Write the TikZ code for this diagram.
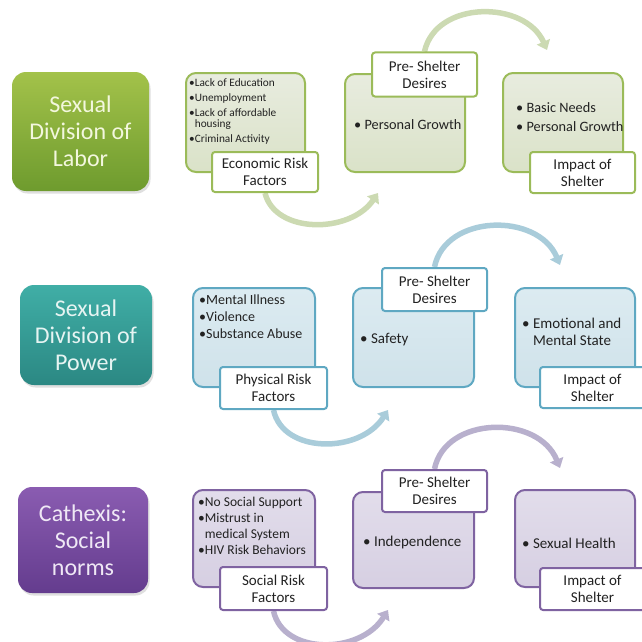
\documentclass[tikz,border=0pt]{standalone}
\usepackage{fontspec}
\setmainfont{Carlito}
\usetikzlibrary{arrows.meta,shadows}
\pgfdeclarelayer{background}
\pgfsetlayers{background,main}
\definecolor{grnA}{HTML}{A3C24A}\definecolor{grnB}{HTML}{6E9B2E}
\definecolor{tealA}{HTML}{40AEA6}\definecolor{tealB}{HTML}{2B8883}
\definecolor{purA}{HTML}{8A5CB1}\definecolor{purB}{HTML}{643C8E}
\definecolor{grnT}{HTML}{F3F7DE}\definecolor{tealT}{HTML}{E6F4F2}\definecolor{purT}{HTML}{EFE8F5}
\definecolor{grnF1}{HTML}{E8ECDF}\definecolor{grnF2}{HTML}{DAE2C8}\definecolor{grnL}{HTML}{9BBB59}
\definecolor{bluF1}{HTML}{DCEBF1}\definecolor{bluF2}{HTML}{CFE2EA}\definecolor{bluL}{HTML}{5FA8C2}
\definecolor{purF1}{HTML}{E2DDEB}\definecolor{purF2}{HTML}{D6CFE2}\definecolor{purL}{HTML}{7F63A1}
\definecolor{grnArc}{HTML}{CCDAB2}\definecolor{bluArc}{HTML}{A9CCDA}\definecolor{purArc}{HTML}{B8B0CD}
\definecolor{ink}{HTML}{222222}
\tikzset{
  bigbox/.style={rounded corners=14pt, inner sep=0pt, align=center,
    font=\fontsize{24}{27}\selectfont,
    drop shadow={opacity=0.25, shadow xshift=1.5pt, shadow yshift=-2.5pt}},
  itembox/.style={draw, line width=2pt, rounded corners=10pt, inner sep=0pt},
  tagbox/.style={draw, fill=white, line width=2pt, rounded corners=3pt, inner sep=0pt,
    align=center, text=ink, font=\fontsize{15}{17}\selectfont},
  itemtext/.style={anchor=west, align=left, inner sep=0pt, text=ink},
  flowarc/.style={line width=5.5pt, -{Triangle[width=14pt,length=9pt]}},
  greenrow/.style={draw=grnL},
  bluerow/.style={draw=bluL},
  purplerow/.style={draw=purL}
}
\begin{document}
\begin{tikzpicture}[x=1pt,y=-1pt]
\useasboundingbox (0,0) rectangle (641,642);

% ---------- Row 1 ----------
\node[bigbox, top color=grnA, bottom color=grnB, text=grnT, minimum width=137pt, minimum height=119pt]
  (L1) at (80.5,131.5) {Sexual\\Division of\\Labor};
\node[itembox, greenrow, top color=grnF1, bottom color=grnF2, minimum width=119pt, minimum height=99pt]
  (R1) at (245.5,122.5) {};
\node[itembox, greenrow, top color=grnF1, bottom color=grnF2, minimum width=120pt, minimum height=98pt]
  (P1) at (405,123) {};
\node[itembox, greenrow, top color=grnF1, bottom color=grnF2, minimum width=120pt, minimum height=99pt]
  (I1) at (563,122.5) {};
\node[itemtext, font=\fontsize{11.3}{11}\selectfont] (R1t) at (189,111)
  {•Lack of Education\\[4pt]•Unemployment\\[4pt]•Lack of affordable\\\hphantom{•}housing\\[4pt]•Criminal Activity};
\node[itemtext, font=\fontsize{14.3}{17}\selectfont] (P1t) at (354,125) {• Personal Growth};
\node[itemtext, font=\fontsize{14.3}{19}\selectfont] (I1t) at (516,117.5) {• Basic Needs\\• Personal Growth};
\node[tagbox, greenrow, minimum width=106pt, minimum height=40pt] (R1lab) at (265,172) {Economic Risk\\Factors};
\node[tagbox, greenrow, minimum width=105pt, minimum height=44pt] (P1lab) at (424.5,74.5) {Pre- Shelter\\Desires};
\node[tagbox, greenrow, minimum width=105pt, minimum height=41pt] (I1lab) at (582.5,172.5) {Impact of\\Shelter};
\coordinate (t1) at (378,193);
\coordinate (u1) at (547,50);
\begin{pgfonlayer}{background}
\draw[flowarc, grnArc] (R1lab.south) .. controls (275,234) and (350,234) .. (t1);
\draw[flowarc, grnArc] (P1lab.north) .. controls (436,0) and (525,0) .. (u1);
\end{pgfonlayer}

% ---------- Row 2 ----------
\node[bigbox, top color=tealA, bottom color=tealB, text=tealT, minimum width=132pt, minimum height=100pt]
  (L2) at (86,335) {Sexual\\Division of\\Power};
\node[itembox, bluerow, top color=bluF1, bottom color=bluF2, minimum width=122pt, minimum height=99pt]
  (R2) at (254,337.5) {};
\node[itembox, bluerow, top color=bluF1, bottom color=bluF2, minimum width=121pt, minimum height=99pt]
  (P2) at (413.5,337.5) {};
\node[itembox, bluerow, top color=bluF1, bottom color=bluF2, minimum width=120pt, minimum height=99pt]
  (I2) at (575,337.5) {};
\node[itemtext, font=\fontsize{14}{17}\selectfont] (R2t) at (199,317)
  {•Mental Illness\\•Violence\\•Substance Abuse};
\node[itemtext, font=\fontsize{15}{17}\selectfont] (P2t) at (360,340) {• Safety};
\node[itemtext, font=\fontsize{15}{17}\selectfont] (I2t) at (522,331.5) {• Emotional and\\\hphantom{• }Mental State};
\node[tagbox, bluerow, minimum width=107pt, minimum height=42pt] (R2lab) at (273.5,388) {Physical Risk\\Factors};
\node[tagbox, bluerow, minimum width=105pt, minimum height=43pt] (P2lab) at (434.5,289.5) {Pre- Shelter\\Desires};
\node[tagbox, bluerow, minimum width=105pt, minimum height=41pt] (I2lab) at (592.5,387.5) {Impact of\\Shelter};
\coordinate (t2) at (388,410);
\coordinate (u2) at (560,265);
\begin{pgfonlayer}{background}
\draw[flowarc, bluArc] (R2lab.south) .. controls (283,454) and (360,454) .. (t2);
\draw[flowarc, bluArc] (P2lab.north) .. controls (445,214) and (538,212) .. (u2);
\end{pgfonlayer}

% ---------- Row 3 ----------
\node[bigbox, top color=purA, bottom color=purB, text=purT, minimum width=130pt, minimum height=106pt]
  (L3) at (83,540) {Cathexis:\\Social\\norms};
\node[itembox, purplerow, top color=purF1, bottom color=purF2, minimum width=122pt, minimum height=97pt]
  (R3) at (254,538.5) {};
\node[itembox, purplerow, top color=purF1, bottom color=purF2, minimum width=121pt, minimum height=96pt]
  (P3) at (413.5,540) {};
\node[itembox, purplerow, top color=purF1, bottom color=purF2, minimum width=120pt, minimum height=97pt]
  (I3) at (575,538.5) {};
\node[itemtext, font=\fontsize{13.5}{16}\selectfont] (R3t) at (198,526)
  {•No Social Support\\•Mistrust in\\\hphantom{•}medical System\\•HIV Risk Behaviors};
\node[itemtext, font=\fontsize{15}{17}\selectfont] (P3t) at (363,542) {• Independence};
\node[itemtext, font=\fontsize{15}{17}\selectfont] (I3t) at (522,543) {• Sexual Health};
\node[tagbox, purplerow, minimum width=107pt, minimum height=43pt] (R3lab) at (273.5,588.5) {Social Risk\\Factors};
\node[tagbox, purplerow, minimum width=105pt, minimum height=42pt] (P3lab) at (434.5,491) {Pre- Shelter\\Desires};
\node[tagbox, purplerow, minimum width=105pt, minimum height=42pt] (I3lab) at (592.5,589) {Impact of\\Shelter};
\coordinate (t3) at (388,610);
\coordinate (u3) at (560,468);
\begin{pgfonlayer}{background}
\draw[flowarc, purArc] (R3lab.south) .. controls (283,655) and (360,655) .. (t3);
\draw[flowarc, purArc] (P3lab.north) .. controls (445,416) and (538,414) .. (u3);
\end{pgfonlayer}
\end{tikzpicture}
\end{document}
